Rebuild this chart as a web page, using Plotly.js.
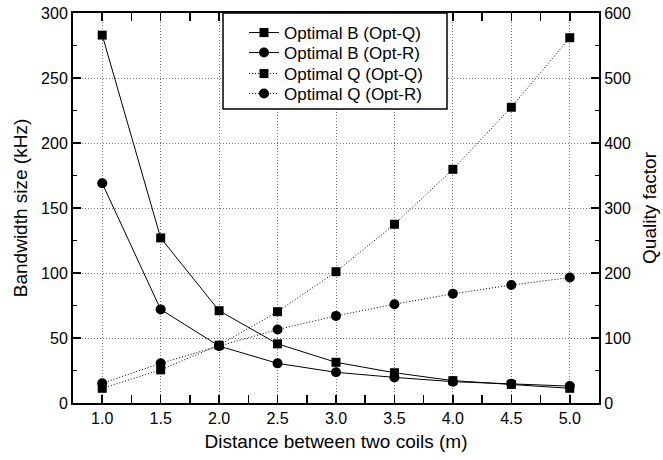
<!DOCTYPE html>
<html>
<head>
<meta charset="utf-8">
<script src="https://cdn.plot.ly/plotly-3.0.1.min.js"></script>
<style>html,body{margin:0;padding:0;background:#fff;}#chart{width:663px;height:460px;}</style>
</head>
<body>
<div id="chart"></div>
<script>
const distance = [1.0, 1.5, 2.0, 2.5, 3.0, 3.5, 4.0, 4.5, 5.0];
const bandwidthOptQ = [283, 127, 71, 45.5, 31.3, 23.3, 17.2, 14.3, 11.3];
const bandwidthOptR = [169, 72, 43.8, 30.5, 23.6, 19.7, 16.4, 14.9, 13.0];
const qualityOptQ = [22.6, 51, 89, 140.5, 202, 275, 359.5, 455, 562];
const qualityOptR = [30.3, 61, 87.7, 113, 134, 152, 168, 181.5, 193];
const seriesNames = ["Optimal B (Opt-Q)", "Optimal B (Opt-R)", "Optimal Q (Opt-Q)", "Optimal Q (Opt-R)"];

const fontFam = '"Liberation Sans", Arial, sans-serif';
const fineDot = '1px,2px';
const traces = [
  {x: distance, y: bandwidthOptQ, name: seriesNames[0], mode: 'lines+markers', yaxis: 'y', legend: 'legend',
   line: {color: '#000', width: 1}, marker: {symbol: 'square', size: 9, color: '#000'}},
  {x: distance, y: bandwidthOptR, name: seriesNames[1], mode: 'lines+markers', yaxis: 'y', legend: 'legend2',
   line: {color: '#000', width: 1}, marker: {symbol: 'circle', size: 10, color: '#000'}},
  {x: distance, y: qualityOptQ, name: seriesNames[2], mode: 'lines+markers', yaxis: 'y2', legend: 'legend3',
   line: {color: '#000', width: 1, dash: fineDot}, marker: {symbol: 'square', size: 9, color: '#000'}},
  {x: distance, y: qualityOptR, name: seriesNames[3], mode: 'lines+markers', yaxis: 'y2', legend: 'legend4',
   line: {color: '#000', width: 1, dash: fineDot}, marker: {symbol: 'circle', size: 10, color: '#000'}}
];

const plotL = 73, plotW = 526, plotB = 403, plotH = 390;
function legendAt(rowPx) {
  return {x: (244 - plotL) / plotW, y: (plotB - rowPx) / plotH, xref: 'paper', yref: 'paper',
          xanchor: 'left', yanchor: 'middle', borderwidth: 0, bgcolor: 'rgba(0,0,0,0)',
          font: {size: 17, family: fontFam, color: '#000'}};
}

const layout = {
  width: 663, height: 460,
  margin: {l: 73, r: 64, t: 13, b: 57},
  paper_bgcolor: '#fff', plot_bgcolor: '#fff',
  font: {family: fontFam, color: '#000', size: 16},
  showlegend: true,
  legend: legendAt(33),
  legend2: legendAt(53),
  legend3: legendAt(74),
  legend4: legendAt(94),
  shapes: [{type: 'rect', xref: 'paper', yref: 'paper', x0: 0.2852, x1: 0.711, y0: 0.7538, y1: 1,
            line: {color: '#000', width: 1.5}, fillcolor: '#fff', layer: 'above'}],
  xaxis: {
    range: [0.75, 5.25], tickmode: 'array', tickvals: distance, ticktext: distance.map(v => v.toFixed(1)),
    ticks: 'inside', ticklen: 8, tickwidth: 1.5, tickcolor: '#000',
    showline: true, linecolor: '#000', linewidth: 2, mirror: 'allticks',
    showgrid: true, gridcolor: '#777', griddash: fineDot, gridwidth: 1,
    zeroline: false,
    minor: {dtick: 0.25, tick0: 0.75, ticks: 'inside', ticklen: 4, tickwidth: 1.5, tickcolor: '#000', showgrid: false},
    title: {text: 'Distance between two coils (m)', font: {size: 19}, standoff: 8},
    tickfont: {size: 16}
  },
  yaxis: {
    range: [0, 300], dtick: 50, tick0: 0,
    ticks: 'inside', ticklen: 8, tickwidth: 1.5, tickcolor: '#000',
    showline: true, linecolor: '#000', linewidth: 2,
    showgrid: true, gridcolor: '#777', griddash: fineDot, gridwidth: 1,
    zeroline: false,
    minor: {dtick: 25, ticks: 'inside', ticklen: 4, tickwidth: 1.5, tickcolor: '#000', showgrid: false},
    title: {text: 'Bandwidth size (kHz)', font: {size: 19}, standoff: 8},
    tickfont: {size: 16}
  },
  yaxis2: {
    range: [0, 600], dtick: 100, tick0: 0, overlaying: 'y', side: 'right',
    ticks: 'inside', ticklen: 8, tickwidth: 1.5, tickcolor: '#000',
    showline: true, linecolor: '#000', linewidth: 2,
    showgrid: false, zeroline: false,
    minor: {dtick: 50, ticks: 'inside', ticklen: 4, tickwidth: 1.5, tickcolor: '#000', showgrid: false},
    title: {text: 'Quality factor', font: {size: 19}, standoff: 13},
    tickfont: {size: 16}
  }
};

Plotly.newPlot('chart', traces, layout, {displayModeBar: false, staticPlot: true});
</script>
</body>
</html>
